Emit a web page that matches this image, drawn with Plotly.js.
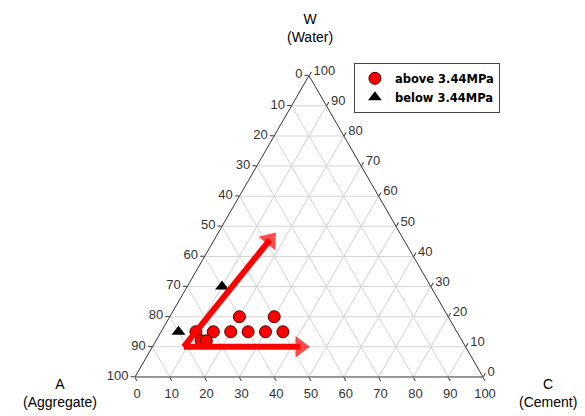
<!DOCTYPE html>
<html>
<head>
<meta charset="utf-8">
<script src="https://cdn.plot.ly/plotly-3.0.1.min.js"></script>
<style>html,body{margin:0;padding:0;background:#fff;}#chart{width:585px;height:416px;}</style>
</head>
<body>
<div id="chart"></div>
<script>
// Ternary data: A = Aggregate, W = Water, C = Cement (percent)
var aboveA = [75, 70, 65, 60, 55, 50, 60, 50, 75, 73.5];
var aboveW = [15, 15, 15, 15, 15, 15, 20, 20, 12, 12];
var aboveC = [10, 15, 20, 25, 30, 35, 20, 30, 13, 14.5];

var belowA = [80, 60];
var belowW = [15, 30];
var belowC = [5, 10];

// Red arrows (start corner -> head)
var arrow1A = [81, 47.5];
var arrow1W = [10, 10];
var arrow1C = [9, 42.5];
var arrow2A = [81, 38.5];
var arrow2W = [10, 45.5];
var arrow2C = [9, 16];

var tickVals = [0, 10, 20, 30, 40, 50, 60, 70, 80, 90, 100];
var tickTextReversed = ['100', '90', '80', '70', '60', '50', '40', '30', '20', '10', '0'];

var seriesNames = ['above 3.44MPa', 'below 3.44MPa'];
var vertexTitles = ['W<br>(Water)', 'A<br>(Aggregate)', 'C<br>(Cement)'];

var FONT = 'Liberation Sans, Arial, sans-serif';

var traces = [
  {
    type: 'scatterternary', mode: 'markers', name: seriesNames[0],
    a: aboveW, b: aboveA, c: aboveC,
    marker: {symbol: 'circle', size: 12, color: '#ff0000', line: {color: '#4a0000', width: 1}},
    hoverinfo: 'skip'
  },
  {
    type: 'scatterternary', mode: 'markers', name: seriesNames[1],
    a: belowW, b: belowA, c: belowC,
    marker: {symbol: 'triangle-up', size: 12, color: '#000000', line: {width: 0}},
    hoverinfo: 'skip'
  },
  {
    type: 'scatterternary', mode: 'lines+markers', showlegend: false,
    a: arrow1W, b: arrow1A, c: arrow1C,
    line: {color: '#ff0000', width: 6},
    marker: {symbol: 'triangle-up', size: [0, 19], color: '#ff0000', angleref: 'previous', line: {width: 0}},
    hoverinfo: 'skip'
  },
  {
    type: 'scatterternary', mode: 'lines+markers', showlegend: false,
    a: arrow2W, b: arrow2A, c: arrow2C,
    line: {color: '#ff0000', width: 6},
    marker: {symbol: 'triangle-up', size: [0, 19], color: '#ff0000', angleref: 'previous', line: {width: 0}},
    hoverinfo: 'skip'
  }
];

function axis() {
  return {
    title: {text: ''},
    tickmode: 'array', tickvals: tickVals, ticktext: tickTextReversed,
    tickfont: {family: FONT, size: 13, color: '#333'},
    ticks: 'outside', ticklen: 4, tickcolor: '#333',
    showline: true, linecolor: '#333', linewidth: 1,
    showgrid: true, gridcolor: '#d4d4d4', gridwidth: 1,
    min: 0
  };
}

var titleFont = {family: FONT, size: 14, color: '#000'};

var layout = {
  width: 585, height: 416,
  margin: {l: 0, r: 0, t: 0, b: 0},
  paper_bgcolor: '#ffffff',
  font: {family: FONT},
  ternary: {
    sum: 100,
    domain: {x: [0.23077, 0.82564], y: [0.09375, 0.8183]},
    bgcolor: '#ffffff',
    aaxis: axis(),
    baxis: axis(),
    caxis: axis()
  },
  annotations: [
    {xref: 'paper', yref: 'paper', x: 310 / 585, y: 1 - 28 / 416, text: vertexTitles[0], showarrow: false, font: titleFont, xanchor: 'center', yanchor: 'middle'},
    {xref: 'paper', yref: 'paper', x: 60 / 585, y: 1 - 393 / 416, text: vertexTitles[1], showarrow: false, font: titleFont, xanchor: 'center', yanchor: 'middle'},
    {xref: 'paper', yref: 'paper', x: 548 / 585, y: 1 - 393 / 416, text: vertexTitles[2], showarrow: false, font: titleFont, xanchor: 'center', yanchor: 'middle'}
  ],
  showlegend: true,
  legend: {
    x: 0.605, y: 0.849, xanchor: 'left', yanchor: 'top',
    bgcolor: '#ffffff', bordercolor: '#444', borderwidth: 1,
    font: {family: 'DejaVu Sans, sans-serif', size: 11.5, color: '#000', weight: 'bold'},
    tracegroupgap: 0
  }
};

Plotly.newPlot('chart', traces, layout, {displayModeBar: false, staticPlot: true});
</script>
</body>
</html>
